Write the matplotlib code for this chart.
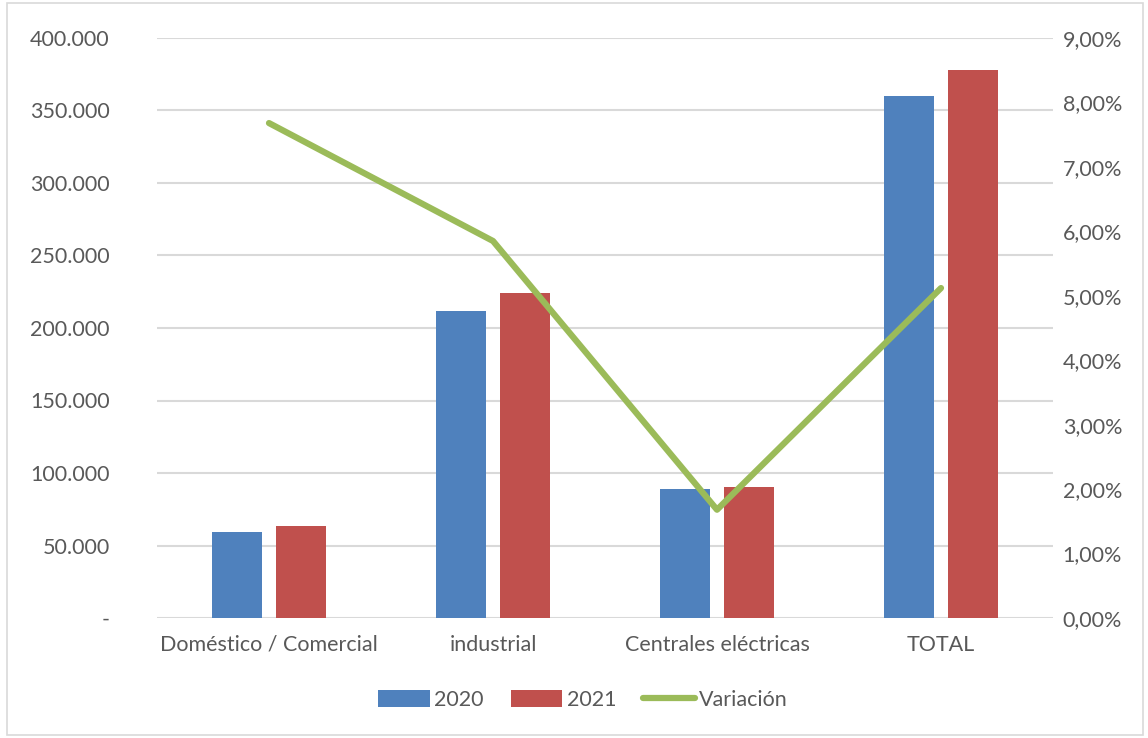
import matplotlib
matplotlib.use("Agg")
import matplotlib.pyplot as plt
import numpy as np
from matplotlib.ticker import FuncFormatter
from matplotlib.lines import Line2D
from matplotlib.patches import Patch

categories = ["Doméstico / Comercial", "industrial", "Centrales eléctricas", "TOTAL"]
values_2020 = [59100, 211600, 88700, 359900]
values_2021 = [63700, 224200, 90300, 378100]
variation_pct = [7.68, 5.85, 1.68, 5.12]

plt.rcParams["font.family"] = ["Lato", "DejaVu Sans"]
text_color = "#595959"
blue = "#4F81BD"
red = "#C0504D"
green = "#9BBB59"
fs = 15.5

fig = plt.figure(figsize=(11.48, 7.38), dpi=100)
fig.patch.set_facecolor("white")
ax = fig.add_axes([157 / 1148, 1 - 618 / 738, 896 / 1148, 580 / 738])

x = np.arange(len(categories))
w = 0.223
off = 0.143
ax.bar(x - off, values_2020, w, color=blue, zorder=3, label="2020")
ax.bar(x + off, values_2021, w, color=red, zorder=3, label="2021")

ax.set_xlim(-0.5, len(categories) - 0.5)
ax.set_ylim(0, 400000)
ax.set_yticks(np.arange(0, 400001, 50000))


def thousands(v, _):
    if v == 0:
        return "-"
    return f"{int(v):,}".replace(",", ".")


ax.yaxis.set_major_formatter(FuncFormatter(thousands))
ax.grid(axis="y", color="#d9d9d9", linewidth=1.5, zorder=0)
ax.set_xticks(x)
ax.set_xticklabels(categories)
for s in ax.spines.values():
    s.set_visible(False)
ax.tick_params(axis="both", length=0, colors=text_color, labelsize=fs)
ax.tick_params(axis="y", pad=34)
ax.tick_params(axis="x", pad=12)

ax2 = ax.twinx()
ax2.plot(x, variation_pct, color=green, linewidth=4.5, solid_capstyle="round", zorder=4)
ax2.set_ylim(0, 9)
ax2.set_yticks(np.arange(0, 9.01, 1))
ax2.yaxis.set_major_formatter(FuncFormatter(lambda v, _: f"{v:.2f}%".replace(".", ",")))
for s in ax2.spines.values():
    s.set_visible(False)
ax2.tick_params(axis="y", length=0, colors=text_color, labelsize=fs, pad=7)

handles = [
    Patch(facecolor=blue, label="2020"),
    Patch(facecolor=red, label="2021"),
    Line2D([0], [0], color=green, linewidth=4.5, solid_capstyle="round", label="Variación"),
]
leg = fig.legend(handles=handles, loc="center", bbox_to_anchor=(583 / 1148, 1 - 700 / 738),
                 ncol=3, frameon=False, fontsize=fs, handlelength=2.4, handleheight=0.8,
                 handletextpad=0.2, columnspacing=1.25)
for t in leg.get_texts():
    t.set_color(text_color)

border = plt.Rectangle((0.006, 0.004), 0.99, 0.992, transform=fig.transFigure,
                       fill=False, edgecolor="#d9d9d9", linewidth=1.2)
fig.add_artist(border)

fig.savefig("out.png", dpi=100)
